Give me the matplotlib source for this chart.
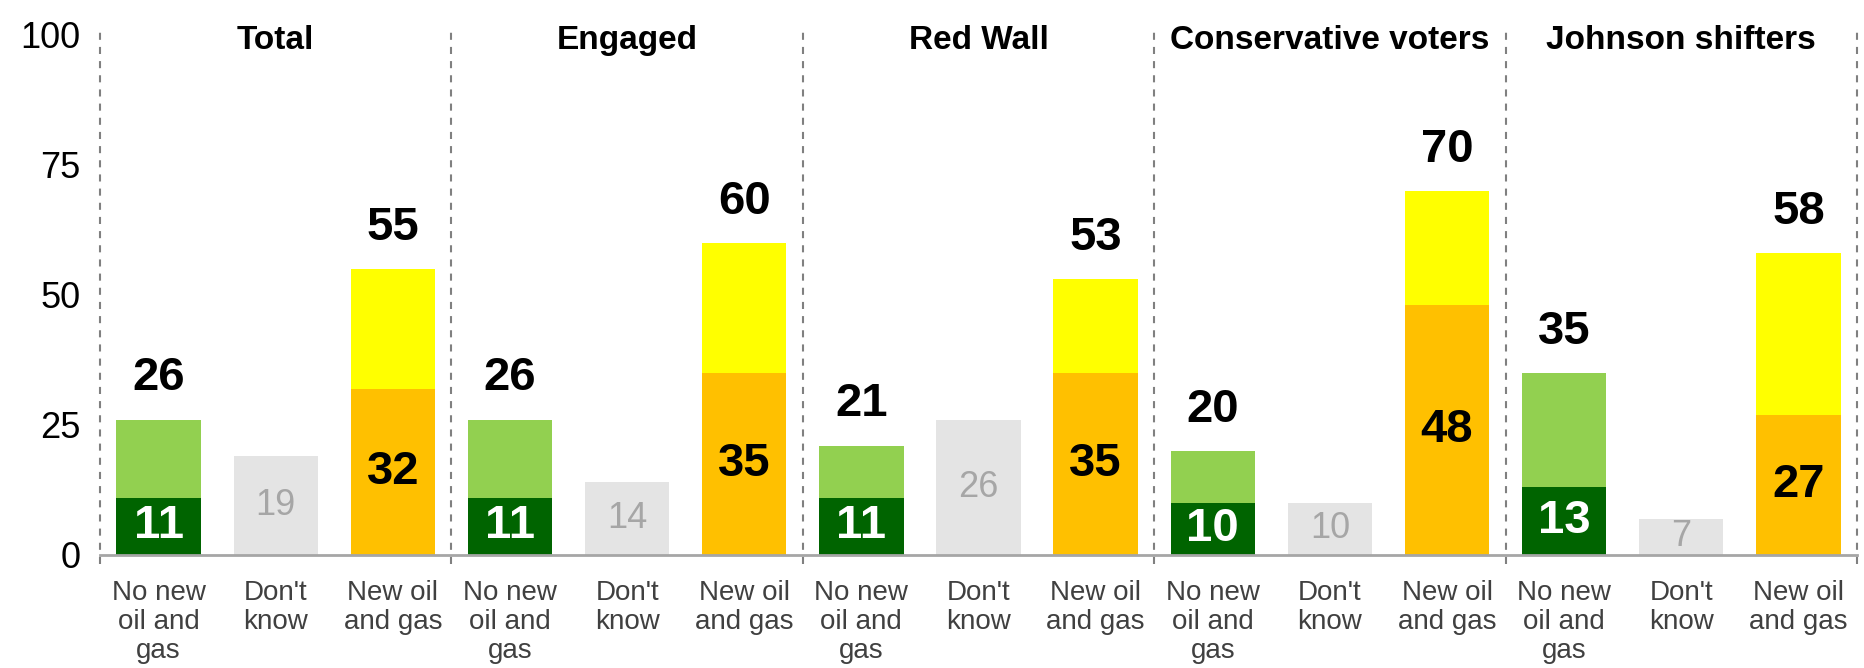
import numpy as np
import matplotlib
matplotlib.use("Agg")
import matplotlib.pyplot as plt

plt.rcParams['font.family'] = ['Liberation Sans', 'DejaVu Sans']

groups = ["Total", "Engaged", "Red Wall", "Conservative voters", "Johnson shifters"]
answers = ["No new\noil and\ngas", "Don't\nknow", "New oil\nand gas"]

no_new_strong = [11, 11, 11, 10, 13]
no_new_total = [26, 26, 21, 20, 35]
dont_know = [19, 14, 26, 10, 7]
new_strong = [32, 35, 35, 48, 27]
new_total = [55, 60, 53, 70, 58]

DARK_GREEN = "#006400"
LIGHT_GREEN = "#92D050"
GREY = "#E4E4E4"
ORANGE = "#FFC000"
YELLOW = "#FFFF00"

fig = plt.figure(figsize=(18.64, 6.68), dpi=100)
ax = fig.add_axes([100 / 1864, 1 - 555 / 668, 1757 / 1864, 520 / 668])

n = len(groups)
x_no = np.arange(n) * 3
x_dk = x_no + 1
x_new = x_no + 2
w = 0.72

no_rest = np.array(no_new_total) - np.array(no_new_strong)
new_rest = np.array(new_total) - np.array(new_strong)

ax.bar(x_no, no_new_strong, w, color=DARK_GREEN)
ax.bar(x_no, no_rest, w, bottom=no_new_strong, color=LIGHT_GREEN)
ax.bar(x_dk, dont_know, w, color=GREY)
ax.bar(x_new, new_strong, w, color=ORANGE)
ax.bar(x_new, new_rest, w, bottom=new_strong, color=YELLOW)

for i in range(n):
    # totals above the stacked bars
    for xx, tot in ((x_no[i], no_new_total[i]), (x_new[i], new_total[i])):
        ax.annotate(str(tot), (xx, tot), xytext=(0, 14), textcoords="offset points",
                    ha="center", va="bottom", fontsize=34, fontweight="bold")
    ax.text(x_no[i], no_new_strong[i] / 2, str(no_new_strong[i]), ha="center", va="center",
            fontsize=34, fontweight="bold", color="white")
    ax.text(x_new[i], new_strong[i] / 2, str(new_strong[i]), ha="center", va="center",
            fontsize=34, fontweight="bold", color="black")
    ax.text(x_dk[i], dont_know[i] / 2, str(dont_know[i]), ha="center", va="center",
            fontsize=26, color="#A6A6A6")
    ax.text(x_dk[i], 99.0, groups[i], ha="center", va="center",
            fontsize=24, fontweight="bold")

# dashed separators between groups
for sep in np.arange(n + 1) * 3 - 0.5:
    ax.plot([sep, sep], [-1.7, 101.5], color="#808080", lw=1.5,
            linestyle=(0, (3.4, 3.4)), clip_on=False, zorder=3)

ax.set_xlim(-0.5, 3 * n - 0.5)
ax.set_ylim(0, 100)
ax.set_yticks([0, 25, 50, 75, 100])
ax.tick_params(axis="y", length=0, labelsize=26, pad=14)
ax.set_xticks(np.arange(3 * n))
ax.set_xticklabels(answers * n, fontsize=20, color="#404040", linespacing=1.15)
ax.tick_params(axis="x", length=0, pad=18)

for side in ("left", "right", "top"):
    ax.spines[side].set_visible(False)
ax.spines["bottom"].set_color("#A6A6A6")
ax.spines["bottom"].set_linewidth(2)

fig.savefig("out.png", dpi=100)
